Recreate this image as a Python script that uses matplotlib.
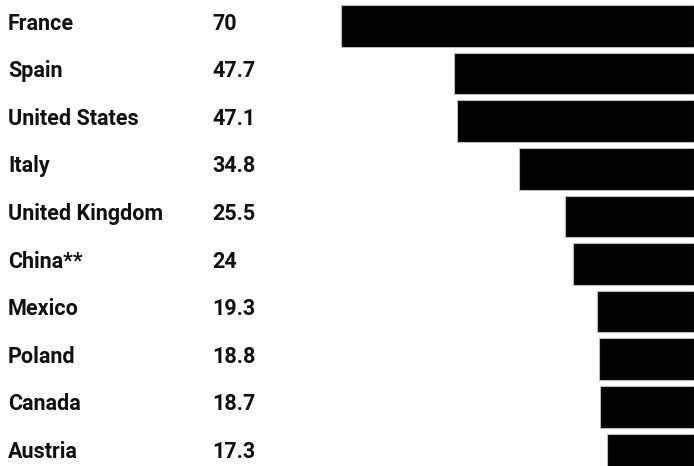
import matplotlib.pyplot as plt
import matplotlib.transforms as mtransforms

countries = ["France", "Spain", "United States", "Italy", "United Kingdom",
             "China**", "Mexico", "Poland", "Canada", "Austria"]
values = [70, 47.7, 47.1, 34.8, 25.5, 24, 19.3, 18.8, 18.7, 17.3]
value_labels = ["70", "47.7", "47.1", "34.8", "25.5", "24", "19.3", "18.8", "18.7", "17.3"]

W, H = 694, 466
fig = plt.figure(figsize=(W / 100, H / 100), dpi=100)
ax = fig.add_axes([0, 0, 1, 1])

px_per_unit = 5.04
pitch = 47.6
first = 26
ax.set_xlim(W / px_per_unit, 0)
ax.set_ylim((H - first) / pitch, -first / pitch)

rows = list(range(len(countries)))
ax.barh(rows, values, height=41.5 / pitch, left=0, color="black",
        edgecolor="#bbbbbb", linewidth=0.8)

trans = mtransforms.blended_transform_factory(ax.transAxes, ax.transData)
for i, (name, lab) in enumerate(zip(countries, value_labels)):
    y = i - 2.5 / pitch
    ax.text(8 / W, y, name, transform=trans, va="center", ha="left",
            fontsize=15.5, fontweight="semibold", family="Roboto", color="#111111")
    ax.text(212 / W, y, lab, transform=trans, va="center", ha="left",
            fontsize=15.5, fontweight="semibold", family="Roboto", color="#111111")

ax.axis("off")
fig.savefig("out.png", dpi=100, facecolor="white")
